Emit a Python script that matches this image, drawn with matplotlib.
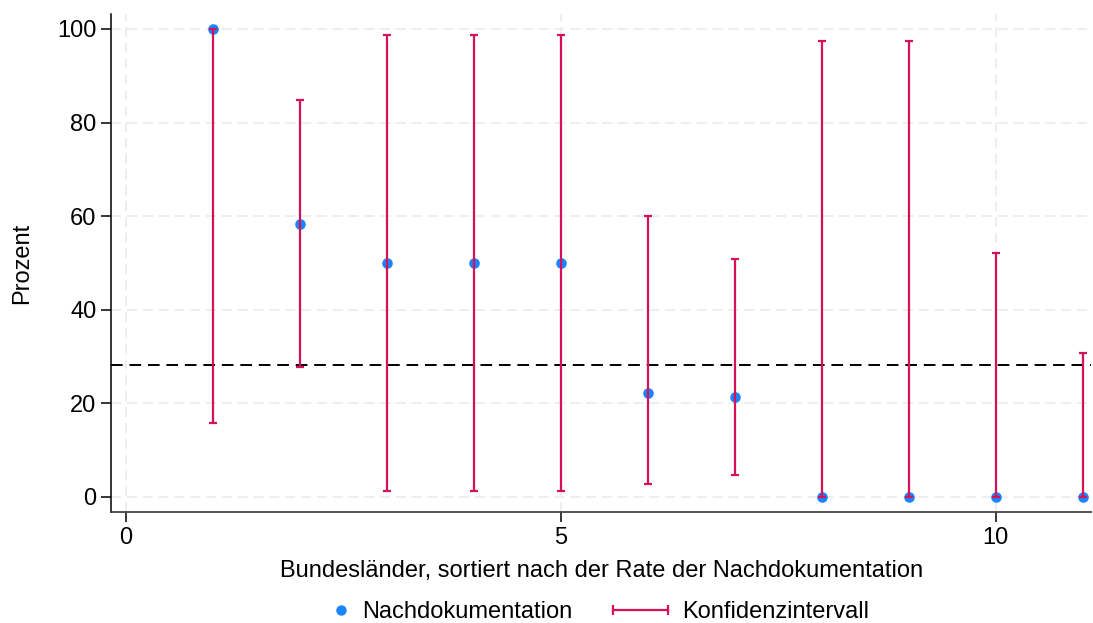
import matplotlib.pyplot as plt
from matplotlib.lines import Line2D
from matplotlib.legend_handler import HandlerLine2D

plt.rcParams["font.family"] = ["Liberation Sans", "DejaVu Sans"]

# Bundeslaender (rank), Rate der Nachdokumentation and 95% CI
states = [1, 2, 3, 4, 5, 6, 7, 8, 9, 10, 11]
rate = [100, 58.3, 50, 50, 50, 22.2, 21.4, 0, 0, 0, 0]
ci_low = [15.7, 27.7, 1.2, 1.2, 1.2, 2.8, 4.7, 0, 0, 0, 0]
ci_high = [100, 84.8, 98.7, 98.7, 98.7, 60.0, 50.8, 97.4, 97.4, 52.1, 30.8]
overall = 28.2

blue = "#1a85ff"
red = "#d41159"
fs = 17


class DotHandler(HandlerLine2D):
    # put the dot near the right end of the handle box, close to the text
    def get_xdata(self, legend, xdescent, ydescent, width, height, fontsize):
        x = -xdescent + width - 10
        return [x - 1, x + 1], [x]


fig = plt.figure(figsize=(10.93, 6.23), dpi=100)
ax = fig.add_axes([0.1016, 0.178, 0.897, 0.7995])

err_lo = [r - lo for r, lo in zip(rate, ci_low)]
err_hi = [hi - r for r, hi in zip(rate, ci_high)]

ax.scatter(states, rate, s=58, color=blue, zorder=3, linewidths=0)
ax.errorbar(states, rate, yerr=[err_lo, err_hi], fmt="none", ecolor=red,
            elinewidth=1.6, capsize=3, capthick=1.6, zorder=4)
ax.axhline(overall, color="black", linestyle=(0, (6, 3.5)), linewidth=1.4, zorder=2)

ax.set_xlim(-0.17, 11.1)
ax.set_ylim(-3.3, 103.2)
ax.set_xticks([0, 5, 10])
ax.set_yticks([0, 20, 40, 60, 80, 100])
ax.grid(True, color="#ebebeb", linestyle=(0, (6, 3.5)), linewidth=1.2, zorder=0)
ax.set_axisbelow(True)

for side in ["top", "right"]:
    ax.spines[side].set_visible(False)
ax.spines["left"].set_color("black")
ax.spines["bottom"].set_color("#444444")
ax.spines["left"].set_linewidth(1.1)
ax.spines["bottom"].set_linewidth(1.3)
ax.tick_params(labelsize=fs, length=7, width=1.1, pad=3.5)

ax.set_ylabel("Prozent", fontsize=fs, labelpad=17)
ax.set_xlabel("Bundesländer, sortiert nach der Rate der Nachdokumentation",
              fontsize=fs, labelpad=8)

dot = Line2D([], [], linestyle="none", marker="o", markersize=7.5,
             markerfacecolor=blue, markeredgewidth=0)
ci = Line2D([], [], color=red, linewidth=1.6, marker="|", markersize=7,
            markeredgewidth=1.6)
ax.legend([dot, ci], ["Nachdokumentation", "Konfidenzintervall"],
          handler_map={ci: HandlerLine2D(numpoints=2), dot: DotHandler(numpoints=1)},
          loc="upper center", bbox_to_anchor=(0.476, -0.16), ncol=2, frameon=False,
          fontsize=fs, handlelength=2.9, handletextpad=0.3, columnspacing=1.44,
          borderaxespad=0)

fig.savefig("out.png", dpi=100)
